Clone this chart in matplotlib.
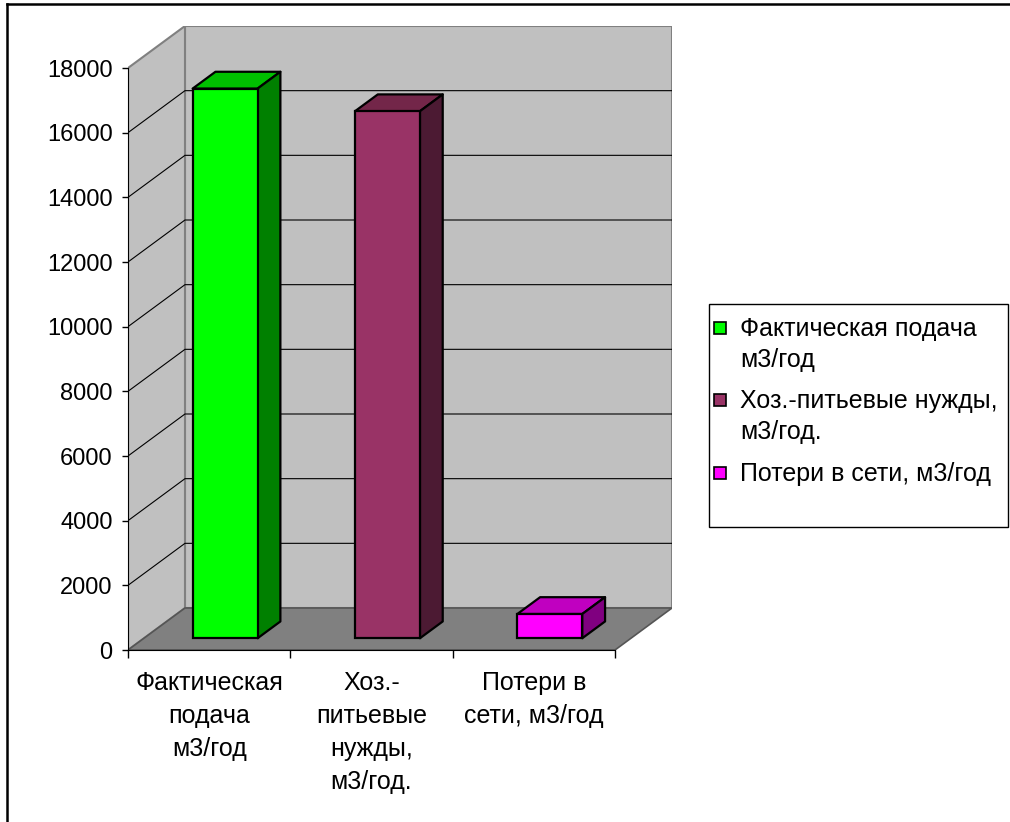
import matplotlib
matplotlib.use("Agg")
import matplotlib.pyplot as plt
from matplotlib.patches import Polygon, Rectangle
from matplotlib.lines import Line2D

plt.rcParams['font.family'] = ['Liberation Sans', 'DejaVu Sans']

# water balance, m3 per year
categories = ['Фактическая\nподача\nм3/год', 'Хоз.-\nпитьевые\nнужды,\nм3/год.', 'Потери в\nсети, м3/год']
legend_labels = ['Фактическая подача\nм3/год', 'Хоз.-питьевые нужды,\nм3/год.', 'Потери в сети, м3/год']
values = [17000, 16300, 750]
face_colors = ['#00FF00', '#993366', '#FF00FF']
top_colors = ['#00C000', '#732649', '#C000C0']
side_colors = ['#008000', '#4C1A33', '#800080']
y_ticks = list(range(0, 18001, 2000))

# fake 3d: how far the back wall sits from the front plane, in data units
DX = 0.351
DY = 1299
F0, F1 = 0.28, 0.68   # bar front/back as a fraction of the depth
BAR_W = 0.40

fig = plt.figure(figsize=(10.10, 8.22), dpi=100)
ax = fig.add_axes([128 / 1010, 172 / 822, 544 / 1010, 624 / 822])
ax.set_xlim(-0.5, 2.5 + DX)
ax.set_ylim(0, 18000 + DY)
ax.patch.set_visible(False)

x0, x1, ytop = -0.5, 2.5, 18000
wall = '#C0C0C0'
edge = '#808080'

# walls and floor
ax.add_patch(Polygon([(x0 + DX, DY), (x1 + DX, DY), (x1 + DX, ytop + DY), (x0 + DX, ytop + DY)],
                     closed=True, facecolor=wall, edgecolor=edge, lw=1.5, zorder=1))
ax.add_patch(Polygon([(x0, 0), (x0 + DX, DY), (x0 + DX, ytop + DY), (x0, ytop)],
                     closed=True, facecolor=wall, edgecolor=edge, lw=1.5, zorder=1))
ax.add_patch(Polygon([(x0, 0), (x1, 0), (x1 + DX, DY), (x0 + DX, DY)],
                     closed=True, facecolor='#808080', edgecolor='#555555', lw=1.2, zorder=1))

# gridlines run across the left wall and the back wall
for v in y_ticks[1:-1]:
    ax.plot([x0, x0 + DX, x1 + DX], [v, v + DY, v + DY], color='black', lw=0.8, zorder=2)

# bars: front face, top and right side
for i, v in enumerate(values):
    left = i - BAR_W / 2 + F0 * DX
    right = left + BAR_W
    b0 = F0 * DY
    b1 = F1 * DY
    ddx = (F1 - F0) * DX
    ax.bar(left, v, width=BAR_W, bottom=b0, align='edge', color=face_colors[i],
           edgecolor='black', lw=1.6, zorder=5)
    ax.add_patch(Polygon([(left, v + b0), (right, v + b0), (right + ddx, v + b1), (left + ddx, v + b1)],
                         closed=True, facecolor=top_colors[i], edgecolor='black', lw=1.6,
                         joinstyle='round', zorder=4))
    ax.add_patch(Polygon([(right, b0), (right + ddx, b1), (right + ddx, v + b1), (right, v + b0)],
                         closed=True, facecolor=side_colors[i], edgecolor='black', lw=1.6,
                         joinstyle='round', zorder=4))

# axes: only the front left and bottom edges
for s in ['top', 'right']:
    ax.spines[s].set_visible(False)
ax.spines['left'].set_bounds(0, 18000)
ax.spines['bottom'].set_bounds(x0, x1)
ax.spines['left'].set_zorder(6)
ax.spines['bottom'].set_zorder(6)

ax.set_yticks(y_ticks)
ax.set_yticklabels([str(t) for t in y_ticks])
ax.tick_params(axis='y', direction='out', length=4.5, width=1, pad=6.5, labelsize=17)

ax.set_xticks([-0.5, 0.5, 1.5, 2.5])
ax.set_xticklabels([])
ax.tick_params(axis='x', which='major', direction='out', length=6, width=1)
ax.set_xticks([0, 1, 2], minor=True)
ax.set_xticklabels(categories, minor=True)
ax.tick_params(axis='x', which='minor', length=0, pad=15, labelsize=18)
for lbl in ax.get_xticklabels(minor=True):
    lbl.set_linespacing(1.48)
    lbl.set_horizontalalignment('center')

# legend box
W, H = 1010, 822
fig.patches.append(Rectangle((709 / W, 1 - 527 / H), 299 / W, 223 / H, transform=fig.transFigure,
                             facecolor='white', edgecolor='black', lw=1.0))
entry_y = [328, 400, 473]
for i, lab in enumerate(legend_labels):
    yc = 1 - entry_y[i] / H
    fig.patches.append(Rectangle((714 / W, yc - 6 / H), 12 / W, 12 / H, transform=fig.transFigure,
                                 facecolor=face_colors[i], edgecolor='black', lw=1.2))
    fig.text(740 / W, yc + 11 / H, lab, fontsize=18, va='top', ha='left', linespacing=1.35)

# outer frame (top and left edges)
fig.lines.append(Line2D([7 / W, 1], [1 - 4 / H, 1 - 4 / H], transform=fig.transFigure, color='black', lw=1.8))
fig.lines.append(Line2D([7 / W, 7 / W], [0, 1 - 4 / H], transform=fig.transFigure, color='black', lw=1.8))

fig.savefig('out.png', dpi=100, facecolor='white')
